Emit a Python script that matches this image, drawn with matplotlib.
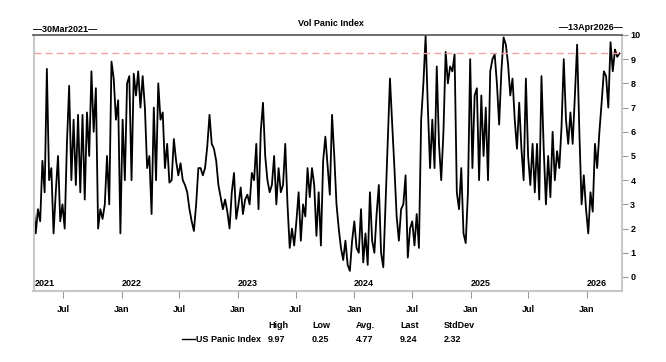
import matplotlib
matplotlib.use('Agg')
import matplotlib.pyplot as plt
import matplotlib.dates as mdates
import matplotlib.transforms as mtransforms
from matplotlib.lines import Line2D
import pandas as pd

# weekly readings of the panic index, 30Mar2021 -> 13Apr2026
panic_values = [
    3.0, 1.8, 2.8, 2.3, 4.8, 3.5, 8.6, 4.0, 4.5, 1.8, 3.5, 5.0, 2.3, 3.0, 2.0, 5.5,
    7.9, 4.0, 6.5, 3.8, 6.7, 3.5, 6.7, 3.2, 6.8, 5.0, 8.5, 6.0, 7.8, 2.0, 2.8, 2.4,
    3.0, 5.0, 3.0, 8.9, 8.2, 6.5, 7.3, 1.8, 6.5, 4.0, 8.0, 8.3, 4.0, 8.4, 7.5, 8.5,
    7.0, 8.3, 7.0, 4.5, 5.0, 2.6, 7.0, 4.0, 8.0, 6.5, 6.8, 4.5, 5.5, 3.9, 4.0, 5.7,
    4.8, 4.2, 4.7, 4.0, 3.8, 3.5, 2.8, 2.3, 1.9, 3.0, 4.5, 4.5, 4.2, 4.5, 5.4, 6.7,
    5.5, 5.3, 4.8, 3.8, 3.3, 2.8, 3.2, 2.7, 2.0, 3.5, 4.3, 2.4, 3.0, 3.7, 2.6, 3.2,
    3.4, 3.0, 4.3, 4.0, 5.5, 2.8, 6.0, 7.2, 5.0, 4.0, 3.5, 3.8, 5.0, 3.0, 4.5, 3.5,
    3.8, 5.5, 3.0, 1.2, 2.0, 1.3, 2.3, 3.5, 1.5, 3.0, 2.5, 4.5, 3.3, 4.5, 3.8, 1.7,
    3.5, 1.3, 4.8, 5.8, 4.6, 3.4, 6.7, 5.0, 3.0, 2.0, 1.2, 0.7, 1.5, 0.5, 0.25, 1.5,
    2.3, 1.2, 1.0, 2.8, 0.6, 1.8, 0.5, 3.5, 1.5, 1.0, 2.6, 3.8, 1.0, 0.4, 3.0, 5.5,
    8.2, 6.3, 4.5, 2.5, 1.5, 2.8, 3.0, 4.2, 0.8, 2.0, 2.3, 1.3, 2.6, 1.2, 6.5, 8.0,
    9.97, 7.0, 4.5, 6.5, 4.5, 8.7, 5.5, 4.0, 6.0, 9.3, 8.0, 8.7, 8.5, 9.2, 3.5, 2.8,
    4.5, 1.8, 1.4, 3.5, 9.0, 4.5, 7.5, 7.8, 4.0, 7.5, 5.0, 7.0, 4.0, 8.5, 9.0, 9.2,
    8.0, 6.3, 8.5, 9.9, 9.6, 8.8, 7.5, 8.2, 6.5, 5.3, 7.2, 5.3, 4.0, 8.2, 5.0, 3.8,
    5.5, 3.5, 5.5, 3.2, 8.3, 5.3, 3.0, 5.0, 3.3, 6.0, 4.0, 5.2, 4.5, 6.2, 9.0, 6.5,
    5.5, 6.8, 5.5, 7.5, 9.6, 6.0, 3.0, 4.2, 2.8, 1.8, 3.5, 2.7, 5.5, 4.5, 6.0, 7.2,
    8.5, 8.3, 7.0, 9.7, 8.5, 9.4, 9.1, 9.24,
]
start_date = '2021-03-30'
end_date = '2026-04-13'
last_value = 9.24

stat_names = ['High', 'Low', 'Avg.', 'Last', 'StdDev']
stat_values = ['9.97', '0.25', '4.77', '9.24', '2.32']
series_name = 'US Panic Index'
title = 'Vol Panic Index'

dates = pd.date_range(start_date, end_date, periods=len(panic_values))

font = {'family': 'Liberation Sans', 'weight': 'bold', 'size': 6.5}

W, H = 666, 362
fig = plt.figure(figsize=(W / 100, H / 100), dpi=100)
ax = fig.add_axes([33.5 / W, 1 - 291 / H, (622 - 33.5) / W, (291 - 35) / H])

ax.plot(dates, panic_values, color='black', linewidth=1.3)
ax.axhline(last_value, color='#f2a0a0', linewidth=1.0, dashes=(5, 3))

ax.set_xlim(pd.Timestamp(start_date), pd.Timestamp(end_date) + pd.Timedelta(days=8))
ax.set_ylim(-0.58, 10)

# spines
ax.spines['top'].set_color('#555555')
ax.spines['top'].set_linewidth(1.2)
for side in ['left', 'right', 'bottom']:
    ax.spines[side].set_color('#c8c8c8')
    ax.spines[side].set_linewidth(1.5)

# y axis on the right
ax.yaxis.tick_right()
ax.set_yticks(range(0, 11))
ax.tick_params(axis='y', direction='out', length=4, width=0.8, color='#999999', pad=2)
for lbl in ax.get_yticklabels():
    lbl.set_fontproperties(font)

# month ticks below
ax.xaxis.set_major_locator(mdates.MonthLocator(bymonth=[1, 7]))
ax.xaxis.set_major_formatter(mdates.DateFormatter('%b'))
ax.tick_params(axis='x', direction='out', length=5, width=0.8, color='#999999', pad=5)
for lbl in ax.get_xticklabels():
    lbl.set_fontproperties(font)

# year labels inside the axes
trans = mtransforms.blended_transform_factory(ax.transData, ax.transAxes)
ax.text(pd.Timestamp(start_date) + pd.Timedelta(days=4), 0.03, '2021', transform=trans,
        ha='left', va='center', **font)
for year in range(2022, 2027):
    ax.text(pd.Timestamp(f'{year}-01-01'), 0.03, str(year), transform=trans,
            ha='left', va='center', **font)

# header
fig.text(331 / W, 1 - 24 / H, title, ha='center', va='center', **font)
fig.text(33 / W, 1 - 29 / H, '\u201430Mar2021\u2014', ha='left', va='center', **font)
fig.text(623 / W, 1 - 28 / H, '\u201413Apr2026\u2014', ha='right', va='center', **font)

# stats footer
fig.add_artist(Line2D([182 / W, 195 / W], [1 - 339 / H, 1 - 339 / H], color='black', linewidth=1.0))
fig.text(196 / W, 1 - 339 / H, series_name, ha='left', va='center', **font)
for k, (name, value) in enumerate(zip(stat_names, stat_values)):
    x = (268 + 44 * k) / W
    fig.text(x, 1 - 325 / H, name, ha='left', va='center', **font)
    fig.text(x, 1 - 339 / H, value, ha='left', va='center', **font)

fig.savefig('out.png', dpi=100)
